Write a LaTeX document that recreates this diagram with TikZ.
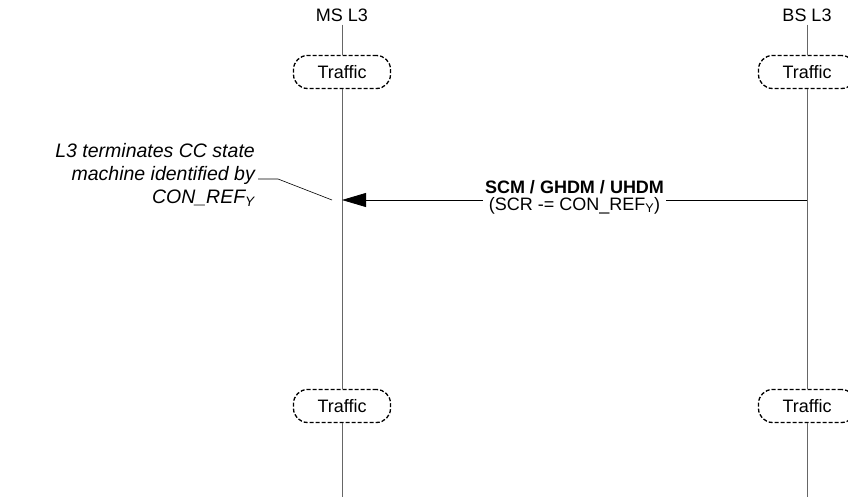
\documentclass[tikz,border=0pt]{standalone}
\usepackage{fontspec}
\setmainfont{Liberation Sans}
\usetikzlibrary{positioning, arrows.meta}

\begin{document}
\begin{tikzpicture}[x=1pt, y=-1pt, >={Triangle[length=24pt, width=14pt]}, node distance=465pt, font=\fontsize{18}{17}\selectfont]

  \tikzstyle{head}=[inner sep=3pt]
  \tikzstyle{traffic}=[draw, dash pattern=on 4pt off 2pt, line width=1.3pt, rounded corners=14pt, minimum width=97pt, minimum height=33pt, fill=white]
  \tikzstyle{life}=[draw=black!60, line width=1pt]
  \tikzstyle{msg}=[->, line width=0.8pt]
  \tikzstyle{msglabel}=[fill=white, inner sep=2pt, align=center, yshift=3pt]
  \tikzstyle{note}=[inner sep=3pt, align=right, font=\itshape\fontsize{19.5}{23}\selectfont]

  \useasboundingbox (0,0) rectangle (848,497);

  \node[head] (msHead) at (342,15) {MS L3};
  \node[head] (bsHead) [right of=msHead] {BS L3};
  \node[traffic] (msTop) at (342,72) {Traffic};
  \node[traffic] (bsTop) [right of=msTop] {Traffic};
  \node[traffic] (msBot) at (342,406) {Traffic};
  \node[traffic] (bsBot) [right of=msBot] {Traffic};
  \coordinate (msEnd) at (342,497);
  \coordinate (bsEnd) at (807,497);

  % lifelines
  \path[life] (msHead) -- (msTop) -- (msBot) -- (msEnd);
  \path[life] (bsHead) -- (bsTop) -- (bsBot) -- (bsEnd);

  % release message
  \coordinate (bsMsg) at (807,200);
  \coordinate (msMsg) at (342,200);
  \draw[msg] (bsMsg) -- node[msglabel] {{\bfseries SCM / GHDM / UHDM}\\(SCR -= CON\_REF\textsubscript{Y})} (msMsg);

  % comment
  \node[note, anchor=east] (ccNote) at (258,175) {L3 terminates CC state\\machine identified by\\CON\_REF\textsubscript{Y}};
  \coordinate (noteBend) at (278,179);
  \coordinate (noteTip) at (332,200);
  \draw[line width=0.6pt] ([yshift=-4pt]ccNote.east) -- (noteBend) -- (noteTip);

\end{tikzpicture}
\end{document}
